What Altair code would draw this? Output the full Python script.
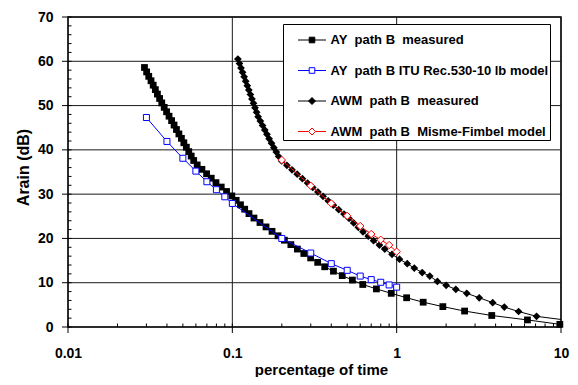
import altair as alt
import pandas as pd

FONT = "Liberation Sans"

# ---------------- data ----------------
# AY path B measured
ay_meas_x = [0.0292, 0.0301, 0.0310, 0.0320, 0.0330, 0.0340, 0.0350, 0.0361, 0.0372,
             0.0385, 0.0398, 0.0412, 0.0427, 0.0442, 0.0457, 0.0473, 0.0490, 0.0507,
             0.0525, 0.0543, 0.0562, 0.0582, 0.0611, 0.0653, 0.0697, 0.0744, 0.0795,
             0.0856, 0.0922, 0.0993, 0.1055, 0.1121, 0.1189, 0.1263, 0.1354, 0.1473,
             0.1603, 0.1744, 0.1897, 0.2073, 0.2271, 0.2487, 0.2723, 0.2996, 0.3306,
             0.3648, 0.4124, 0.4664, 0.5377, 0.6218, 0.753, 0.927, 1.15, 1.45, 1.91,
             2.59, 3.79, 6.25, 9.84]
ay_meas_y = [58.6, 57.6, 56.6, 55.6, 54.6, 53.6, 52.6, 51.6, 50.6, 49.6, 48.6, 47.6,
             46.6, 45.6, 44.6, 43.6, 42.6, 41.6, 40.6, 39.6, 38.6, 37.6, 36.6, 35.6,
             34.6, 33.6, 32.6, 31.6, 30.6, 29.6, 28.6, 27.6, 26.6, 25.6, 24.6, 23.6,
             22.6, 21.6, 20.6, 19.6, 18.6, 17.6, 16.6, 15.6, 14.6, 13.6, 12.6, 11.6,
             10.6, 9.6, 8.6, 7.6, 6.6, 5.6, 4.6, 3.6, 2.6, 1.6, 0.6]

# AY path B ITU Rec.530-10 lb model
ay_itu_x = [0.03, 0.04, 0.05, 0.06, 0.07, 0.08, 0.09, 0.1, 0.2, 0.3, 0.4, 0.5, 0.6,
            0.7, 0.8, 0.9, 1.0]
ay_itu_y = [47.3, 41.9, 38.1, 35.2, 32.8, 31.0, 29.4, 27.9, 20.0, 16.7, 14.3, 12.8,
            11.5, 10.7, 10.1, 9.5, 9.0]

# AWM path B measured
awm_meas_x = [0.1081, 0.1105, 0.1129, 0.1154, 0.1180, 0.1206, 0.1233, 0.1260, 0.1288,
              0.1316, 0.1345, 0.1374, 0.1405, 0.1435, 0.1481, 0.1527, 0.1575, 0.1624,
              0.1675, 0.1731, 0.1790, 0.1852, 0.1915, 0.1996, 0.2147, 0.2308, 0.2482,
              0.2670, 0.2871, 0.3087, 0.3317, 0.3565, 0.3830, 0.4120, 0.4438, 0.4782,
              0.5132, 0.5475, 0.5844, 0.6237, 0.6716, 0.7236, 0.7852, 0.846, 0.937,
              1.04, 1.16, 1.28, 1.43, 1.59, 1.77, 2.0, 2.29, 2.67, 3.18, 3.84, 4.52,
              5.52, 7.1]
awm_meas_y = [60.5, 59.5, 58.5, 57.5, 56.5, 55.5, 54.5, 53.5, 52.5, 51.5, 50.5, 49.5,
              48.5, 47.5, 46.5, 45.5, 44.5, 43.5, 42.5, 41.5, 40.5, 39.5, 38.5, 37.5,
              36.5, 35.5, 34.5, 33.5, 32.5, 31.5, 30.5, 29.5, 28.5, 27.5, 26.5, 25.5,
              24.5, 23.5, 22.5, 21.5, 20.5, 19.5, 18.5, 17.6, 16.4, 15.3, 14.3, 13.3,
              12.3, 11.5, 10.3, 9.4, 8.5, 7.6, 6.6, 5.5, 4.5, 3.5, 2.4]
# the measured AWM line runs on to the right-hand edge
awm_tail_x = [10.0]
awm_tail_y = [1.7]

# AWM path B Misme-Fimbel model
awm_mf_x = [0.2, 0.3, 0.4, 0.5, 0.6, 0.7, 0.8, 0.9, 1.0]
awm_mf_y = [37.7, 31.9, 27.9, 25.1, 22.8, 21.0, 19.7, 18.5, 17.0]

series_labels = ["AY\u00a0 path B\u00a0 measured",
                 "AY\u00a0 path B\u00a0ITU Rec.530-10 lb model",
                 "AWM\u00a0 path B\u00a0 measured",
                 "AWM\u00a0 path B\u00a0 Misme-Fimbel model"]
series_stroke = ["#000000", "#0000FF", "#000000", "#FF0000"]
series_fill = ["#000000", "#FFFFFF", "#000000", "#FFFFFF"]
legend_paths = ["M-1,0H1M-0.2,-0.2H0.2V0.2H-0.2Z",
                "M-1,0H-0.2M0.2,0H1M-0.2,-0.2H0.2V0.2H-0.2Z",
                "M-1,0H1M0,-0.25L0.25,0L0,0.25L-0.25,0Z",
                "M-1,0H-0.25M0.25,0H1M0,-0.25L0.25,0L0,0.25L-0.25,0Z"]

# axis ticks, gridlines and labels
x_minor = [0.01, 0.02, 0.03, 0.04, 0.05, 0.06, 0.07, 0.08, 0.09,
           0.1, 0.2, 0.3, 0.4, 0.5, 0.6, 0.7, 0.8, 0.9,
           1, 2, 3, 4, 5, 6, 7, 8, 9, 10]
x_major = [0.01, 0.1, 1, 10]
x_major_labels = ["0.01", "0.1", "1", "10"]
y_minor = list(range(0, 71, 2))
y_major = [0, 10, 20, 30, 40, 50, 60, 70]

# ---------------- chart ----------------
W, H = 493, 310
x_label_expr = " : ".join(f"datum.value == {v} ? '{t}'" for v, t in zip(x_major, x_major_labels)) + " : ''"

axis_text = dict(grid=False, ticks=False, domain=False,
                 labelFont=FONT, labelFontSize=14, labelFontWeight="bold",
                 labelColor="#000000", labelOverlap=False,
                 titleFont=FONT, titleFontWeight="bold", titleColor="#000000")

x_axis = alt.Axis(orient="bottom", values=x_major, labelExpr=x_label_expr,
                  labelFlush=False, labelPadding=19, title="percentage of time",
                  titleFontSize=15, titlePadding=2, titleX=253, **axis_text)
y_axis = alt.Axis(orient="left", values=y_major, labelPadding=15,
                  title="Arain (dB)", titleFontSize=16, titlePadding=6, titleY=150,
                  **axis_text)

x_scale = alt.Scale(type="log", domain=[0.01, 10], nice=False)
y_scale = alt.Scale(domain=[0, 70], nice=False, zero=False)


def xq():
    return alt.X("x:Q", scale=x_scale, axis=x_axis)


def yq():
    return alt.Y("y:Q", scale=y_scale, axis=y_axis)


def frame(xs, ys):
    return pd.DataFrame({"x": xs, "y": ys})


ay_df = frame(ay_meas_x, ay_meas_y)
itu_df = frame(ay_itu_x, ay_itu_y)
awm_df = frame(awm_meas_x, awm_meas_y)
awm_line_df = frame(awm_meas_x + awm_tail_x, awm_meas_y + awm_tail_y)
mf_df = frame(awm_mf_x, awm_mf_y)

GRID = "#1a1a1a"

# vertical gridlines at the decades
grid_x = alt.Chart(pd.DataFrame({"x": x_major})).mark_rule(
    color=GRID, strokeWidth=1).encode(x=xq())
# horizontal gridlines, drawn as paths across the whole x range
gy_rows = []
for v in y_major:
    gy_rows.append({"x": x_major[0], "y": v, "g": v})
    gy_rows.append({"x": x_major[-1], "y": v, "g": v})
grid_y = alt.Chart(pd.DataFrame(gy_rows)).mark_line(
    color=GRID, strokeWidth=1).encode(x=xq(), y=yq(), detail="g:N")

# tick marks: minor ones inside the frame, major ones crossing outward
xt_minor = alt.Chart(pd.DataFrame({"x": x_minor})).mark_tick(
    orient="vertical", color="#000000", thickness=1, size=3.5, opacity=1
).encode(x=xq(), y=alt.value(H - 1.75))
xt_major = alt.Chart(pd.DataFrame({"x": x_major})).mark_tick(
    orient="vertical", color="#000000", thickness=1, size=6, opacity=1
).encode(x=xq(), y=alt.value(H + 3))
yt_minor = alt.Chart(pd.DataFrame({"y": y_minor})).mark_tick(
    orient="horizontal", color="#000000", thickness=1, size=3.5, opacity=1
).encode(y=yq(), x=alt.value(1.75))
yt_major = alt.Chart(pd.DataFrame({"y": y_major})).mark_tick(
    orient="horizontal", color="#000000", thickness=1, size=6, opacity=1
).encode(y=yq(), x=alt.value(-3))

layers = [
    grid_x, grid_y, xt_minor, xt_major, yt_minor, yt_major,
    alt.Chart(ay_df).mark_line(color="#000000", strokeWidth=1).encode(x=xq(), y=yq()),
    alt.Chart(ay_df).mark_point(shape="square", filled=True, color="#000000", size=46,
                                opacity=1).encode(x=xq(), y=yq()),
    alt.Chart(itu_df).mark_line(color="#0000FF", strokeWidth=1).encode(x=xq(), y=yq()),
    alt.Chart(itu_df).mark_point(shape="square", filled=True, fill="#FFFFFF", stroke="#0000FF",
                                 strokeWidth=1, size=36, opacity=1).encode(x=xq(), y=yq()),
    alt.Chart(awm_line_df).mark_line(color="#000000", strokeWidth=1).encode(x=xq(), y=yq()),
    alt.Chart(awm_df).mark_point(shape="diamond", filled=True, color="#000000", size=60,
                                 opacity=1).encode(x=xq(), y=yq()),
    alt.Chart(mf_df).mark_line(color="#FF0000", strokeWidth=1).encode(x=xq(), y=yq()),
    alt.Chart(mf_df).mark_point(shape="diamond", filled=True, fill="#FFFFFF", stroke="#FF0000",
                                strokeWidth=1, size=55, opacity=1).encode(x=xq(), y=yq()),
]

legend_df = pd.DataFrame({"series": series_labels})
leg = alt.Legend(
    title=None, orient="none", legendX=215, legendY=7,
    strokeColor="#000000", fillColor="#FFFFFF", padding=1.5, rowPadding=8.5,
    symbolSize=784, symbolOffset=13, labelOffset=4, symbolStrokeWidth=1,
    labelFont=FONT, labelFontSize=13, labelFontWeight="bold", labelColor="#000000",
    labelLimit=400,
)
legend_layer = alt.Chart(legend_df).transform_filter("false").mark_point(
    size=784, strokeWidth=1, opacity=1
).encode(
    shape=alt.Shape("series:N", scale=alt.Scale(domain=series_labels, range=legend_paths), legend=leg),
    stroke=alt.Stroke("series:N", scale=alt.Scale(domain=series_labels, range=series_stroke), legend=leg),
    fill=alt.Fill("series:N", scale=alt.Scale(domain=series_labels, range=series_fill), legend=leg),
)
layers.append(legend_layer)

chart = alt.layer(*layers).properties(
    width=W, height=H,
    autosize=alt.AutoSizeParams(type="none"),
    padding={"left": 60, "top": 9, "right": 9, "bottom": 50},
    background="#FFFFFF",
).configure_view(stroke="#000000", strokeWidth=1.5)

chart.save("out.html", embed_options={"renderer": "svg", "actions": False})
